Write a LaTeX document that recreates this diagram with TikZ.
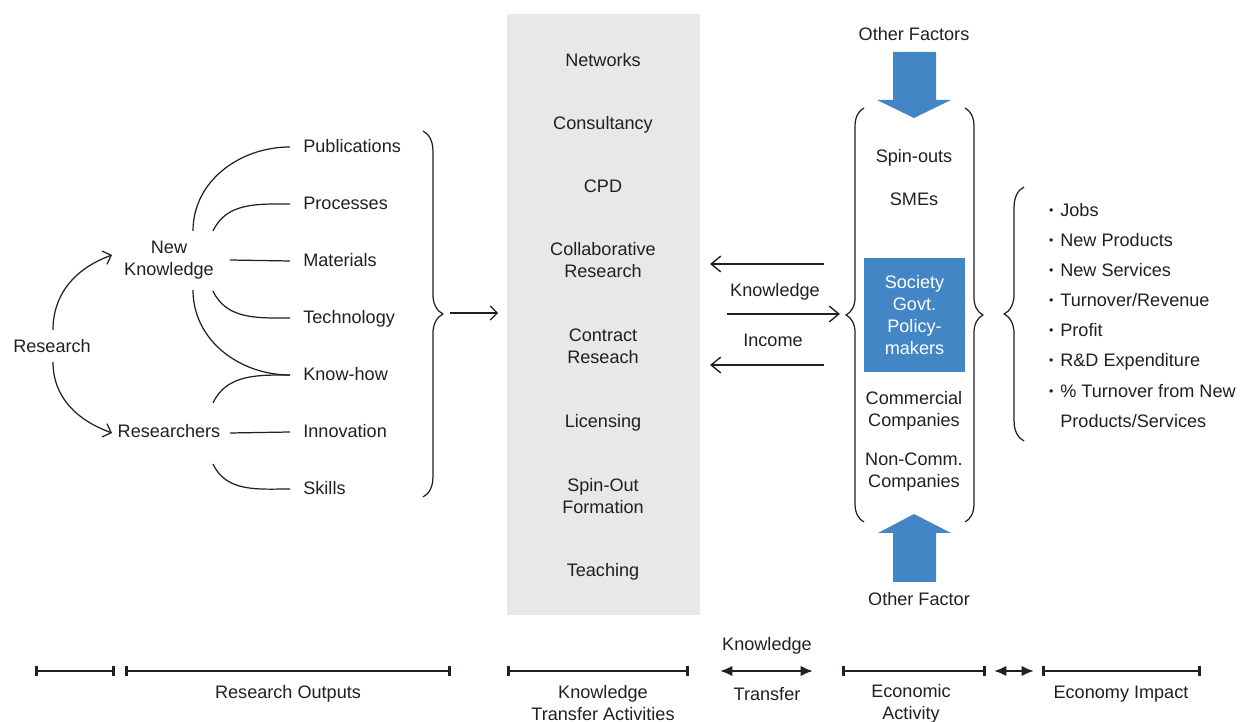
\documentclass[tikz,border=0pt]{standalone}
\usepackage{fontspec}
\setmainfont{Liberation Sans}
\usetikzlibrary{arrows.meta,calc,decorations.pathreplacing}

\definecolor{ink}{RGB}{35,31,32}
\definecolor{boxblue}{RGB}{66,134,198}
\definecolor{boxgray}{RGB}{232,232,232}
\newcommand{\blt}{\llap{\raisebox{1.3pt}{\scriptsize\textbullet}\hspace{4pt}}}

\begin{document}
\begin{tikzpicture}[x=0.02cm,y=0.02cm,color=ink,
  font=\fontsize{10.3pt}{12.5pt}\selectfont,
  txt/.style={align=center,inner sep=2pt},
  one/.style={inner sep=2pt,text height=1.5ex,text depth=.3ex},
  item/.style={one,anchor=west,inner xsep=7.4pt},
  curve/.style={line width=0.7pt},
  open/.style={-{Straight Barb[length=4pt,width=8pt]}},
  flow/.style={line width=0.8pt,-{Straight Barb[length=5.5pt,width=9pt]}},
  brc/.style={line width=0.7pt,decorate,decoration={brace,amplitude=#1}},
  tl/.style={line width=1.5pt,{Bar[width=6pt]}-{Bar[width=6pt]}},
  tlarrow/.style={line width=1.5pt,{Latex[length=7pt,width=6pt]}-{Latex[length=7pt,width=6pt]}}]

\useasboundingbox (0,0) rectangle (1241,-722);

% Hintergrund Aktivitaeten
\node[fill=boxgray,minimum width=3.86cm,minimum height=12.02cm,inner sep=0] (act) at (603.5,-314.5) {};

% Forschung
\node[one] (res) at (52,-347) {Research};
\node[txt] (nk) at (169,-260) {New\\Knowledge};
\node[one] (rs) at (169,-432) {Researchers};

\draw[curve,open] ($(res.center)+(1,17)$) to[out=90,in=200] ($(nk.center)+(-57,5)$);
\draw[curve,open] ($(res.center)+(1,-15)$) to[out=-90,in=160] ($(rs.center)+(-57,-1)$);

% Ergebnisse
\foreach \n/\t/\y in {pub/Publications/147,proc/Processes/204,mat/Materials/261,
  tech/Technology/318,know/Know-how/375,inno/Innovation/432,skl/Skills/489}
  \node[item] (\n) at (290,-\y) {\t};

\draw[curve] ($(nk.center)+(24,29)$) to[out=90,in=180] (pub.west);
\draw[curve] ($(nk.center)+(44,29)$) to[out=65,in=180] (proc.west);
\draw[curve] ($(nk.center)+(61,0)$) -- (mat.west);
\draw[curve] ($(nk.center)+(44,-31)$) to[out=-65,in=180] (tech.west);
\draw[curve] ($(nk.center)+(24,-30)$) to[out=-90,in=180] (know.west);
\draw[curve] ($(rs.center)+(44,29)$) to[out=65,in=180] (know.west);
\draw[curve] ($(rs.center)+(61,-1)$) -- (inno.west);
\draw[curve] ($(rs.center)+(44,-32)$) to[out=-65,in=180] (skl.west);

% Klammer und Pfeil
\draw[brc=11.3pt] (423,-131) -- (423,-497);
\coordinate (ro) at (450,-313);
\coordinate (ka) at (498,-313);
\draw[curve,open] (ro) -- (ka);

% Aktivitaeten
\node[one] (net) at (603,-61) {Networks};
\node[one] (cons) at (603,-124) {Consultancy};
\node[one] (cpd) at (603,-187) {CPD};
\node[txt] (coll) at (603,-260.5) {Collaborative\\Research};
\node[txt] (contr) at (603,-346.5) {Contract\\Reseach};
\node[one] (lic) at (603,-422) {Licensing};
\node[txt] (spin) at (603,-496) {Spin-Out\\Formation};
\node[one] (teach) at (603,-571) {Teaching};

% Wissen und Einkommen
\coordinate (k1s) at (824,-264);
\coordinate (k1e) at (710,-264);
\coordinate (k2s) at (727,-314);
\coordinate (k2e) at (840,-314);
\coordinate (k3s) at (824,-365);
\coordinate (k3e) at (710,-365);
\draw[flow] (k1s) -- (k1e);
\draw[flow] (k2s) -- (k2e);
\draw[flow] (k3s) -- (k3e);
\node[one] (kn) at (775,-291) {Knowledge};
\node[one] (inc) at (773,-341) {Income};

% Wirtschaft
\draw[brc=10.2pt] (864,-522) -- (864,-108);
\draw[brc=10.2pt] (965,-108) -- (965,-522);
\node[one] (so) at (914,-157) {Spin-outs};
\node[one] (sme) at (914,-200) {SMEs};
\node[txt,fill=boxblue,text=white,minimum width=2.02cm,minimum height=2.28cm,inner sep=0]
  (soc) at (914.5,-315) {Society\\Govt.\\Policy-\\makers};
\node[txt] (com) at (914,-410.5) {Commercial\\Companies};
\node[txt] (ncom) at (914,-472) {Non-Comm.\\Companies};

% andere Faktoren
\node[one] (of1) at (914,-35) {Other Factors};
\node[one] (of2) at (919,-600) {Other Factor};
\fill[boxblue] (893,-52) -- (936,-52) -- (936,-100) -- (951,-100) -- (914,-118)
  -- (877,-100) -- (893,-100) -- cycle;
\fill[boxblue] (893,-582) -- (936,-582) -- (936,-533) -- (951,-533) -- (914,-514)
  -- (878,-533) -- (893,-533) -- cycle;

% Wirkung
\draw[brc=11.3pt] (1024,-441) -- (1024,-187);
\foreach \n/\t/\y in {jobs/Jobs/211,np/New Products/241,ns/New Services/271,
  turn/Turnover\slash Revenue/301,prof/Profit/331,rd/R\&D Expenditure/361}
  \node[one,anchor=west,inner xsep=0] (\n) at (1060,-\y) {\blt\t};
\node[anchor=north west,align=left,inner xsep=0,inner ysep=0,
  font=\fontsize{10.3pt}{17pt}\selectfont] (pct) at (1060,-384)
  {\blt\% Turnover from New\\Products/Services};

% Zeitachse
\foreach \a/\b in {35/115,125/451,507/689,842/986,1042/1201}
  \draw[tl] (\a,-671) -- (\b,-671);
\draw[tlarrow] (720,-671) -- (813,-671);
\draw[tlarrow] (994,-671) -- (1034,-671);
\node[one] (lro) at (288,-693) {Research Outputs};
\node[txt] (lkta) at (603,-703.5) {Knowledge\\Transfer Activities};
\node[one] (lkt1) at (767,-645) {Knowledge};
\node[one] (lkt2) at (767,-695) {Transfer};
\node[txt] (lea) at (911,-703.5) {Economic\\Activity};
\node[one] (lei) at (1121,-693) {Economy Impact};

\end{tikzpicture}
\end{document}
